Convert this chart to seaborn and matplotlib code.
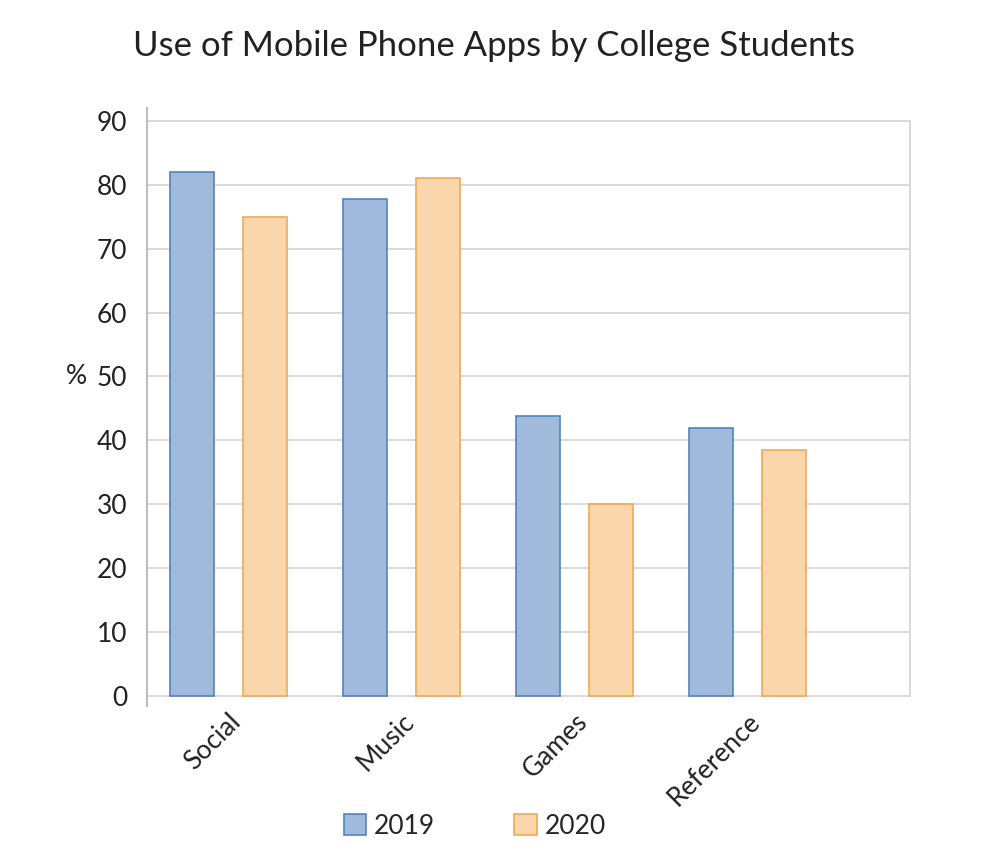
import pandas as pd
import numpy as np
import matplotlib
matplotlib.use("Agg")
import matplotlib.pyplot as plt
import seaborn as sns
from matplotlib.patches import Patch

# datos
categorias = ["Social", "Music", "Games", "Reference"]
anios = ["2019", "2020"]
valores_2019 = [82, 77.7, 43.8, 41.9]
valores_2020 = [75, 81, 30, 38.5]

df = pd.DataFrame({
    "app": categorias * 2,
    "anio": [anios[0]] * len(categorias) + [anios[1]] * len(categorias),
    "pct": valores_2019 + valores_2020,
})

sns.set_style("white")
plt.rcParams['font.family'] = ['Lato', 'DejaVu Sans']

fig = plt.figure(figsize=(10.04, 8.5), dpi=100)
ax = fig.add_axes([147 / 1004, 1 - 706 / 850, (910 - 147) / 1004, (706 - 108) / 850])

relleno = {"2019": "#a0badc", "2020": "#fad6ad"}
borde = {"2019": "#5583bd", "2020": "#eeaa58"}

sns.barplot(data=df, x="app", y="pct", hue="anio", hue_order=anios, order=categorias,
            palette=relleno, saturation=1, width=0.844, gap=0.4, ax=ax, legend=False, zorder=3)

# bordes de cada barra por serie
n = len(categorias)
for i, p in enumerate(ax.patches[:2 * n]):
    p.set_edgecolor(borde[anios[i // n]])
    p.set_linewidth(1.2)

ax.set_xlim(-0.47, 3.94)
ax.set_ylim(-1.56, 92.0)
ax.set_yticks(np.arange(0, 91, 10))
ax.yaxis.grid(True, color="#d3d3d3", linewidth=1.2, zorder=0)
ax.set_axisbelow(True)

for s in ["top", "bottom"]:
    ax.spines[s].set_visible(False)
ax.spines["left"].set_color("#bdbdbd")
ax.spines["left"].set_linewidth(1.5)
ax.spines["right"].set_color("#d3d3d3")
ax.spines["right"].set_linewidth(1.2)
ax.spines["right"].set_bounds(0, 90)

ax.tick_params(axis="y", length=11, width=1.2, color="#d3d3d3", labelsize=19, pad=3, labelcolor="#222222")
ax.tick_params(axis="x", length=0, labelsize=19, pad=2, labelcolor="#222222")
plt.setp(ax.get_xticklabels(), rotation=45, ha="right", rotation_mode="anchor")

ax.set_xlabel("")
ax.set_ylabel("%", rotation=0, fontsize=19, color="#222222", va="center")
ax.yaxis.set_label_coords(-0.092, (50 + 1.56) / (92.0 + 1.56))

fig.text(0.492, 0.946, "Use of Mobile Phone Apps by College Students", ha="center", va="center",
         fontsize=25, color="#222222")

handles = [Patch(facecolor=relleno[a], edgecolor=borde[a], linewidth=1.2) for a in anios]
fig.legend(handles, anios, loc="center", bbox_to_anchor=(0.473, 0.028), ncol=2, frameon=False,
           fontsize=19, handlelength=0.85, handleheight=0.85, handletextpad=0.3, columnspacing=3.0)

fig.savefig("out.png", dpi=100)
